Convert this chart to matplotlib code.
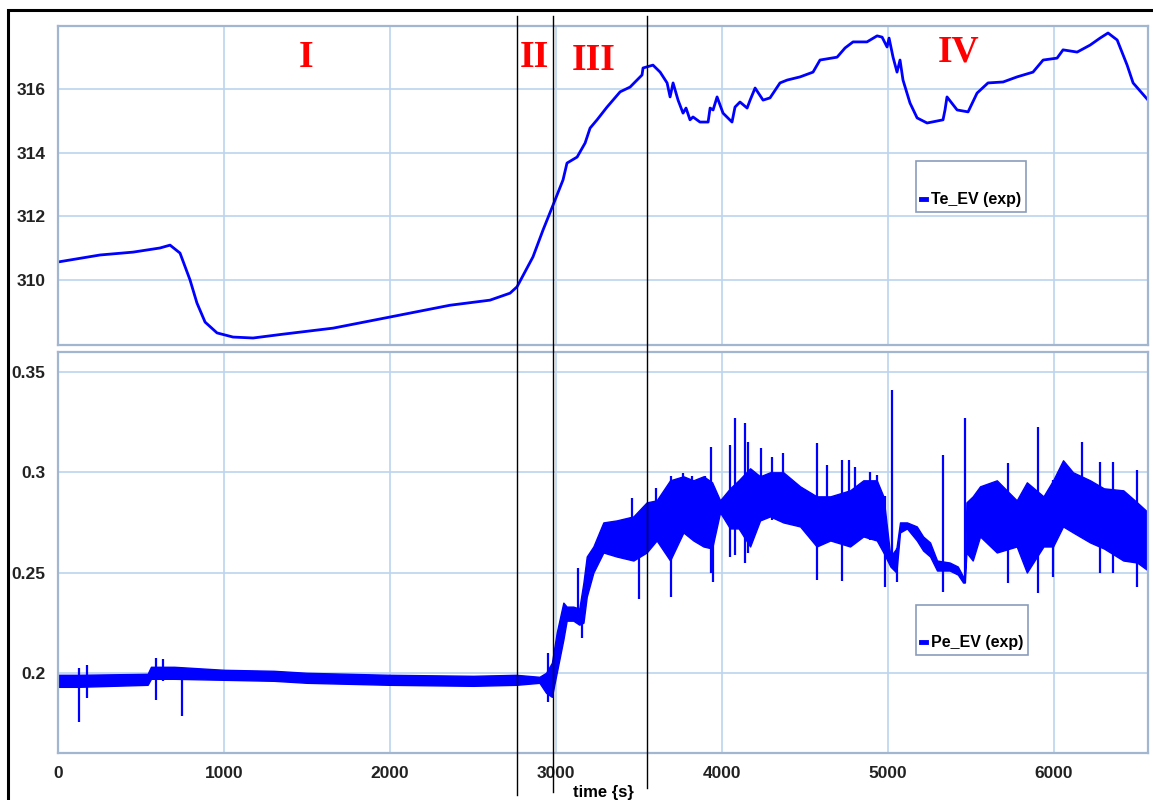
import matplotlib
matplotlib.use("Agg")
import matplotlib.pyplot as plt
import matplotlib.transforms as mtransforms
from matplotlib.lines import Line2D
from matplotlib.patches import Rectangle

# Te_EV (exp) - evaporator temperature
te_time = [0, 253, 452, 614, 675, 735, 795, 837, 886, 958, 1054, 1175, 1355, 1657, 2000,
           2361, 2602, 2723, 2765, 2861, 2922, 2982, 3042, 3066, 3127, 3175, 3205, 3247,
           3307, 3386, 3446, 3518, 3524, 3584, 3627, 3669, 3687, 3705, 3735, 3765, 3783,
           3807, 3825, 3867, 3916, 3928, 3946, 3970, 4006, 4060, 4078, 4108, 4151, 4169,
           4199, 4247, 4289, 4349, 4392, 4470, 4548, 4590, 4693, 4741, 4789, 4873, 4934,
           4964, 4994, 5006, 5030, 5054, 5072, 5090, 5132, 5175, 5235, 5331, 5343, 5355,
           5416, 5482, 5536, 5602, 5693, 5777, 5873, 5934, 6018, 6054, 6139, 6217, 6277,
           6325, 6380, 6440, 6476, 6566]
te_val = [310.56, 310.78, 310.87, 311.0, 311.09, 310.84, 310.0, 309.27, 308.67, 308.33,
          308.2, 308.17, 308.29, 308.48, 308.83, 309.2, 309.36, 309.58, 309.78, 310.72,
          311.57, 312.35, 313.14, 313.67, 313.86, 314.30, 314.77, 315.03, 315.43, 315.91,
          316.06, 316.44, 316.66, 316.75, 316.53, 316.19, 315.75, 316.19, 315.65, 315.24,
          315.40, 315.03, 315.12, 314.96, 314.96, 315.40, 315.34, 315.75, 315.24, 314.96,
          315.43, 315.59, 315.40, 315.65, 316.03, 315.65, 315.72, 316.19, 316.28, 316.38,
          316.53, 316.91, 317.0, 317.29, 317.48, 317.48, 317.67, 317.63, 317.32, 317.6,
          317.0, 316.53, 316.91, 316.28, 315.56, 315.09, 314.93, 315.03, 315.34, 315.75,
          315.34, 315.28, 315.87, 316.19, 316.22, 316.38, 316.53, 316.91, 316.97, 317.23,
          317.16, 317.38, 317.60, 317.76, 317.54, 316.75, 316.19, 315.65]

# Pe_EV (exp) - noisy pressure signal: envelope of the noise band
pe_time = [0, 120, 540, 560, 700, 1000, 1300, 1500, 2000, 2500, 2760, 2900, 2940, 2975,
           3004, 3044, 3064, 3104, 3140, 3165, 3185, 3225, 3285, 3365, 3466, 3546, 3606,
           3687, 3767, 3827, 3888, 3940, 3988, 4048, 4100, 4169, 4229, 4289, 4369, 4470,
           4570, 4652, 4771, 4851, 4932, 4972, 5014, 5050, 5072, 5114, 5173, 5211, 5253,
           5295, 5371, 5420, 5452, 5462, 5472, 5510, 5554, 5655, 5775, 5836, 5936, 5994,
           6054, 6114, 6217, 6300, 6417, 6500, 6566]
pe_low = [0.193, 0.193, 0.194, 0.197, 0.197, 0.1965, 0.196, 0.195, 0.194, 0.1935, 0.194,
          0.195, 0.190, 0.188, 0.200, 0.2165, 0.226, 0.226, 0.224, 0.225, 0.238, 0.250,
          0.260, 0.258, 0.256, 0.260, 0.266, 0.256, 0.270, 0.266, 0.263, 0.262, 0.280,
          0.272, 0.272, 0.263, 0.276, 0.278, 0.275, 0.273, 0.263, 0.266, 0.263, 0.268,
          0.266, 0.260, 0.253, 0.250, 0.270, 0.272, 0.266, 0.261, 0.258, 0.251, 0.251,
          0.249, 0.245, 0.245, 0.260, 0.256, 0.268, 0.260, 0.263, 0.250, 0.263, 0.263,
          0.273, 0.270, 0.265, 0.262, 0.256, 0.255, 0.251]
pe_high = [0.199, 0.199, 0.1995, 0.203, 0.203, 0.2015, 0.201, 0.200, 0.199, 0.1985, 0.199,
           0.198, 0.200, 0.205, 0.220, 0.235, 0.233, 0.233, 0.232, 0.245, 0.258, 0.263,
           0.275, 0.276, 0.278, 0.285, 0.286, 0.296, 0.298, 0.296, 0.298, 0.295, 0.286,
           0.292, 0.296, 0.302, 0.298, 0.300, 0.300, 0.293, 0.288, 0.288, 0.291, 0.296,
           0.296, 0.288, 0.258, 0.262, 0.275, 0.275, 0.273, 0.268, 0.265, 0.256, 0.255,
           0.253, 0.248, 0.248, 0.285, 0.288, 0.293, 0.296, 0.286, 0.295, 0.288, 0.296,
           0.306, 0.300, 0.296, 0.292, 0.291, 0.285, 0.280]

# isolated spikes in the Pe signal
spike_time = [126, 175, 590, 630, 747, 2954, 3135, 3155, 3458, 3500, 3602, 3691, 3767,
              3819, 3898, 3934, 3948, 4048, 4078, 4139, 4157, 4235, 4301, 4367, 4572,
              4632, 4723, 4765, 4801, 4892, 4934, 4982, 5024, 5054, 5331, 5462, 5721,
              5902, 5994, 6169, 6277, 6357, 6499]
spike_low = [0.1756, 0.1875, 0.1865, 0.196, 0.1786, 0.1855, 0.226, 0.2174, 0.26, 0.237,
             0.266, 0.238, 0.270, 0.270, 0.263, 0.250, 0.2454, 0.258, 0.259, 0.255, 0.260,
             0.276, 0.276, 0.275, 0.2464, 0.266, 0.246, 0.266, 0.266, 0.266, 0.266, 0.243,
             0.253, 0.2454, 0.2404, 0.245, 0.245, 0.240, 0.248, 0.273, 0.250, 0.250, 0.243]
spike_high = [0.2025, 0.204, 0.2075, 0.207, 0.201, 0.210, 0.2523, 0.235, 0.287, 0.270,
              0.292, 0.298, 0.2997, 0.298, 0.298, 0.3127, 0.285, 0.3137, 0.327, 0.3246,
              0.315, 0.312, 0.3077, 0.3097, 0.3147, 0.3037, 0.306, 0.306, 0.3027, 0.300,
              0.2987, 0.288, 0.341, 0.262, 0.3087, 0.327, 0.3047, 0.3227, 0.296, 0.315,
              0.305, 0.305, 0.301]

phase_bounds = [2765, 2982, 3545]
phase_names = ["I", "II", "III", "IV"]
phase_pos = [(1494, 317.0), (2867, 316.98), (3229, 316.9), (5422, 317.16)]

BLUE = "#0000ff"
GRID = "#bcd4ee"
SPINE = "#a3b6cf"
tick_font = ["Liberation Sans Narrow", "Liberation Sans", "DejaVu Sans"]

fig = plt.figure(figsize=(11.53, 8.0), dpi=100)
ax1 = fig.add_axes([0.0503, 0.56875, 0.9454, 0.39875])
ax2 = fig.add_axes([0.0503, 0.05875, 0.9454, 0.50125], sharex=ax1)

# top panel: temperature
ax1.plot(te_time, te_val, color=BLUE, lw=2.0, label="Te_EV (exp)")
ax1.set_ylim(307.95, 317.98)
ax1.set_yticks([310, 312, 314, 316])

# bottom panel: pressure
ax2.fill_between(pe_time, pe_low, pe_high, color=BLUE, lw=1.0, edgecolor=BLUE)
ax2.vlines(spike_time, spike_low, spike_high, color=BLUE, lw=1.6)
ax2.set_ylim(0.16, 0.36)
ax2.set_yticks([0.2, 0.25, 0.3, 0.35])
ax2.set_yticklabels(["0.2", "0.25", "0.3", "0.35"])
ax2.set_xlim(0, 6566)
ax2.set_xticks([0, 1000, 2000, 3000, 4000, 5000, 6000])

for ax in (ax1, ax2):
    ax.grid(True, color=GRID, lw=1.2)
    ax.set_axisbelow(True)
    for sp in ax.spines.values():
        sp.set_color(SPINE)
        sp.set_linewidth(1.6)
    ax.tick_params(length=0, pad=9, labelsize=12.5)
    for lab in ax.get_yticklabels() + ax.get_xticklabels():
        lab.set_family(tick_font)
        lab.set_fontweight("bold")
        lab.set_color("#222222")
ax1.tick_params(labelbottom=False)

ax2.set_xlabel("time {s}", family=tick_font, fontweight="bold", fontsize=12)
ax2.xaxis.set_label_coords(0.5, -0.08)

# legends
for ax, name, anchor in ((ax1, "Te_EV (exp)", (0.787, 0.417)),
                         (ax2, "Pe_EV (exp)", (0.787, 0.244))):
    h = Line2D([], [], color=BLUE, lw=3.5)
    leg = ax.legend([h], [name], loc="lower left", bbox_to_anchor=anchor,
                    borderaxespad=0, fancybox=False, framealpha=1, title=" ",
                    handlelength=0.35, handletextpad=0.3, borderpad=0.3,
                    prop={"family": tick_font, "weight": "bold", "size": 11.5},
                    title_fontsize=13)
    leg.get_frame().set_edgecolor("#8a9cbc")
    leg.get_frame().set_linewidth(1.2)

# phase labels
for name, (x, y) in zip(phase_names, phase_pos):
    ax1.text(x, y, name, color="red", fontsize=27, fontweight="bold",
             family="Liberation Serif", ha="center", va="center")

# phase boundaries running through both panels
trans = mtransforms.blended_transform_factory(ax2.transData, fig.transFigure)
for x, yb in zip(phase_bounds, [0.006, 0.01, 0.015]):
    fig.add_artist(Line2D([x, x], [yb, 0.980], transform=trans, color="black", lw=1.0))

# outer black frame (cut on the right and bottom like the source screenshot)
fig.add_artist(Rectangle((7.5 / 1153, -0.05), 1.2, 1.05 - 9.5 / 800,
                         transform=fig.transFigure, fill=False, ec="black", lw=2.2))

fig.savefig("out.png", dpi=100)
